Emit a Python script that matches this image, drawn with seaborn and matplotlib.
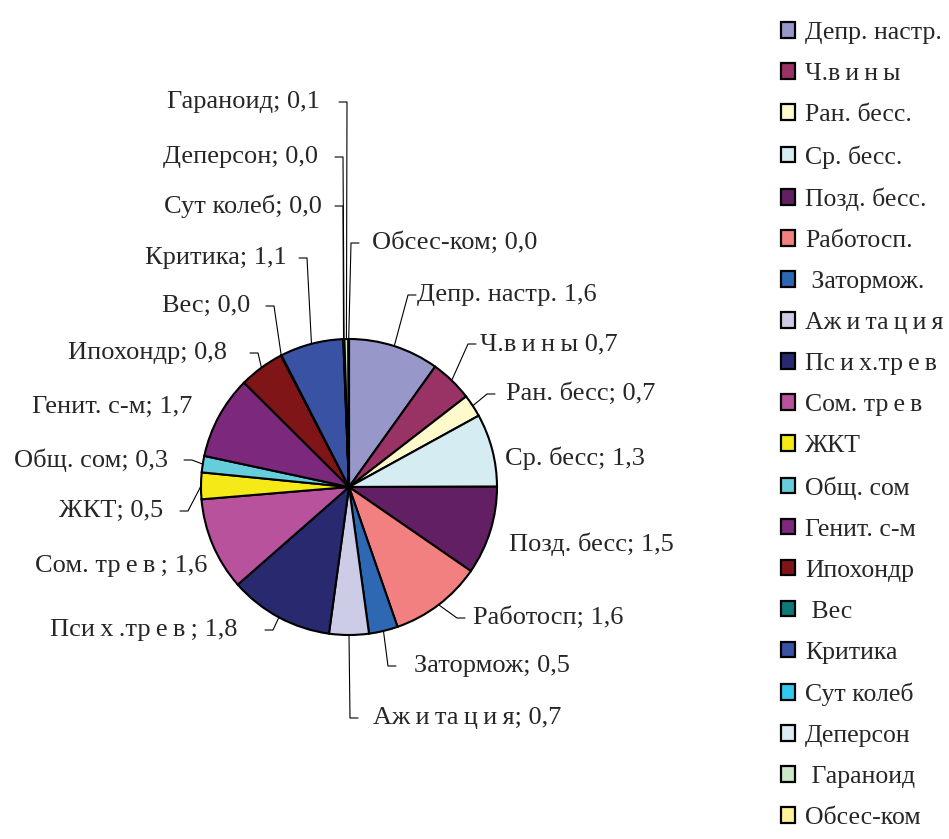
import numpy as np
import matplotlib
matplotlib.use('Agg')
import matplotlib.pyplot as plt
import matplotlib.patches as mpatches
import seaborn as sns

t = "\u2009"  # thin gap used in the letter-spaced words

# categories (legend order = slice order, clockwise from 12 o'clock)
names = ["Депр. настр.", f"Ч.в{t}и{t}н{t}ы", "Ран. бесс.", "Ср. бесс.", "Позд. бесс.",
         "Работосп.", " Затормож.", f"Аж{t}и{t}та{t}ц{t}и{t}я", f"Пс{t}и{t}х.тр{t}е{t}в",
         f"Сом. тр{t}е{t}в", "ЖКТ", "Общ. сом", "Генит. с-м", "Ипохондр", " Вес",
         "Критика", "Сут колеб", "Деперсон", " Гараноид", "Обсес-ком"]

# slice sizes as drawn
values = [1.60, 0.75, 0.40, 1.29, 1.56,
          1.63, 0.51, 0.70, 1.84, 1.64,
          0.47, 0.29, 1.47, 0.80, 0.01,
          1.12, 0.01, 0.01, 0.07, 0.01]

# data labels as printed on the chart
label_texts = ["Депр. настр. 1,6", f"Ч.в{t}и{t}н{t}ы 0,7", "Ран. бесс; 0,7", "Ср. бесс; 1,3",
               "Позд. бесс; 1,5", "Работосп; 1,6", "Затормож; 0,5",
               f"Аж{t}и{t}та{t}ц{t}и{t}я; 0,7", f"Пси{t}х{t}.тр{t}е{t}в{t}; 1,8",
               f"Сом. тр{t}е{t}в{t}; 1,6", "ЖКТ; 0,5", "Общ. сом; 0,3",
               "Генит. с-м; 1,7", "Ипохондр; 0,8", "Вес; 0,0", "Критика; 1,1",
               "Сут колеб; 0,0", "Деперсон; 0,0", "Гараноид; 0,1", "Обсес-ком; 0,0"]

colors_hex = ["#9797c9", "#993366", "#fffacc", "#d4ecf2", "#631f64",
              "#f38080", "#2e68b3", "#cccce6", "#29296f", "#b9529c",
              "#f5ea17", "#66cddc", "#7b287d", "#7f1517", "#0f7878",
              "#3a52a4", "#33c8ee", "#d8eef4", "#cde8c8", "#fff39a"]

sns.set_style("white")
plt.rcParams['font.family'] = ['Liberation Serif', 'DejaVu Serif']
palette = sns.color_palette(colors_hex)

W, H = 949, 839
fig = plt.figure(figsize=(W / 100, H / 100), dpi=100)
ax = fig.add_axes([0, 0, 1, 1])

cx, cy, r = 349, H - 487, 148
wedges, _ = ax.pie(values, colors=palette, startangle=90, counterclock=False,
                   center=(cx, cy), radius=r,
                   wedgeprops=dict(edgecolor='black', linewidth=1.5))
ax.set_xlim(0, W)
ax.set_ylim(0, H)
ax.set_aspect('equal')
ax.axis('off')

# label layout in pixels from top-left: text x, text y, alignment, leader elbow x
label_pos = [(417, 295, 'left', 408), (480, 344, 'left', 468), (506, 394, 'left', 487),
             (505, 458, 'left', None), (509, 544, 'left', None), (473, 618, 'left', 457),
             (414, 666, 'left', 388), (373, 718, 'left', 350), (238, 630, 'right', 273),
             (207, 566, 'right', None), (163, 511, 'right', 188), (168, 460, 'right', 192),
             (192, 407, 'right', None), (227, 353, 'right', 258), (250, 306, 'right', 274),
             (287, 258, 'right', 307), (322, 206, 'right', 343), (318, 157, 'right', 343),
             (320, 102, 'right', 347), (372, 243, 'left', 351)]

for w, txt, (tx, ty, ha, ex) in zip(wedges, label_texts, label_pos):
    ax.text(tx, H - ty, txt, ha=ha, va='center', fontsize=19)
    if ex is not None:
        ang = np.deg2rad((w.theta1 + w.theta2) / 2)
        px, py = cx + r * np.cos(ang), cy + r * np.sin(ang)
        step = 8 if ha == 'left' else -8
        ax.plot([px, ex, ex + step], [py, H - ty, H - ty], color='black', lw=0.8)

handles = [mpatches.Patch(facecolor=c, edgecolor='black', linewidth=1.6) for c in palette]
ax.legend(handles, names, loc='upper left', bbox_to_anchor=(781 / W, 1 - 22 / H),
          frameon=False, fontsize=18.5, handlelength=0.56, handleheight=0.56,
          handletextpad=0.38, labelspacing=0.74, borderpad=0, borderaxespad=0)

plt.savefig('out.png', dpi=100)
